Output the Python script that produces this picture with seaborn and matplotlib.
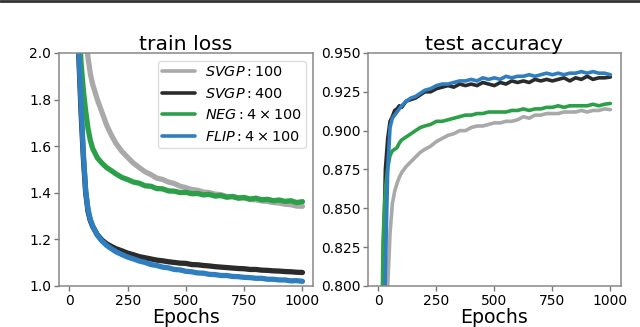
import numpy as np
import pandas as pd
import matplotlib
matplotlib.use("Agg")
import matplotlib.pyplot as plt
import seaborn as sns
from matplotlib.lines import Line2D

# ---- data ----
epochs = [0, 10, 20, 30, 40, 50, 60, 70, 80, 90, 100, 120, 140, 160, 180, 200,
          225, 250, 275, 300, 325, 350, 375, 400, 425, 450, 475, 500, 525, 550,
          575, 600, 625, 650, 675, 700, 725, 750, 775, 800, 825, 850, 875, 900,
          925, 950, 975, 1000]

series = [r'$SVGP: 100$', r'$SVGP: 400$', r'$NEG: 4\times100$', r'$FLIP: 4\times100$']
colors = ['#a9a9a9', '#2b2b2b', '#2ca048', '#2f7fc0']

loss_svgp100 = [3.50, 3.30, 3.00, 2.78, 2.55, 2.36, 2.20, 2.07, 1.98, 1.91, 1.865, 1.80, 1.745, 1.69, 1.648, 1.612,
                1.578, 1.552, 1.527, 1.508, 1.49, 1.478, 1.463, 1.457, 1.446, 1.44, 1.428, 1.422, 1.414, 1.411,
                1.403, 1.401, 1.394, 1.392, 1.384, 1.384, 1.378, 1.378, 1.371, 1.37, 1.365, 1.363, 1.358, 1.356,
                1.351, 1.349, 1.343, 1.342]
loss_svgp400 = [3.50, 3.00, 2.60, 2.25, 2.00, 1.75, 1.55, 1.40, 1.32, 1.28, 1.255, 1.22, 1.197, 1.181, 1.17, 1.16,
                1.151, 1.141, 1.134, 1.126, 1.121, 1.116, 1.111, 1.108, 1.104, 1.101, 1.098, 1.097, 1.092, 1.091,
                1.088, 1.086, 1.083, 1.081, 1.079, 1.077, 1.075, 1.074, 1.071, 1.071, 1.068, 1.067, 1.065, 1.064,
                1.062, 1.061, 1.059, 1.058]
loss_neg = [3.50, 3.20, 2.80, 2.45, 2.15, 1.96, 1.84, 1.75, 1.675, 1.625, 1.59, 1.55, 1.527, 1.508, 1.495, 1.481,
            1.466, 1.457, 1.446, 1.441, 1.43, 1.428, 1.418, 1.417, 1.408, 1.407, 1.401, 1.402, 1.396, 1.397,
            1.391, 1.393, 1.386, 1.388, 1.381, 1.384, 1.377, 1.38, 1.373, 1.377, 1.37, 1.372, 1.366, 1.369,
            1.363, 1.366, 1.358, 1.362]
loss_flip = [3.50, 3.05, 2.65, 2.28, 2.02, 1.78, 1.57, 1.41, 1.33, 1.285, 1.258, 1.218, 1.193, 1.174, 1.16, 1.147,
             1.135, 1.124, 1.116, 1.107, 1.101, 1.092, 1.088, 1.081, 1.078, 1.071, 1.069, 1.063, 1.061, 1.056,
             1.055, 1.05, 1.049, 1.045, 1.045, 1.041, 1.04, 1.037, 1.036, 1.033, 1.033, 1.029, 1.029, 1.026,
             1.026, 1.022, 1.023, 1.02]

acc_svgp100 = [0.10, 0.30, 0.50, 0.70, 0.80, 0.834, 0.853, 0.861, 0.866, 0.870, 0.873, 0.877, 0.880, 0.883, 0.886, 0.888,
               0.890, 0.893, 0.895, 0.897, 0.898, 0.900, 0.900, 0.902, 0.903, 0.903, 0.904, 0.905, 0.905, 0.906,
               0.906, 0.907, 0.909, 0.908, 0.910, 0.910, 0.911, 0.911, 0.911, 0.912, 0.912, 0.912, 0.913, 0.912,
               0.913, 0.913, 0.914, 0.9135]
acc_svgp400 = [0.10, 0.55, 0.81, 0.875, 0.895, 0.906, 0.909, 0.913, 0.914, 0.916, 0.915, 0.919, 0.920, 0.921, 0.923, 0.925,
               0.925, 0.927, 0.928, 0.929, 0.928, 0.930, 0.929, 0.930, 0.929, 0.931, 0.930, 0.929, 0.931, 0.930,
               0.932, 0.931, 0.932, 0.931, 0.933, 0.932, 0.933, 0.932, 0.933, 0.934, 0.932, 0.934, 0.933, 0.935,
               0.933, 0.934, 0.934, 0.9345]
acc_neg = [0.20, 0.72, 0.83, 0.862, 0.876, 0.884, 0.887, 0.888, 0.889, 0.892, 0.894, 0.896, 0.898, 0.900, 0.902, 0.903,
           0.904, 0.906, 0.906, 0.907, 0.908, 0.909, 0.910, 0.910, 0.911, 0.911, 0.912, 0.912, 0.912, 0.912,
           0.913, 0.913, 0.914, 0.913, 0.914, 0.914, 0.915, 0.915, 0.916, 0.915, 0.916, 0.916, 0.916, 0.916,
           0.917, 0.916, 0.917, 0.9175]
acc_flip = [0.10, 0.40, 0.70, 0.81, 0.875, 0.902, 0.908, 0.910, 0.912, 0.914, 0.916, 0.919, 0.921, 0.922, 0.924, 0.926,
            0.927, 0.929, 0.930, 0.930, 0.931, 0.932, 0.932, 0.933, 0.932, 0.934, 0.933, 0.934, 0.933, 0.935,
            0.934, 0.935, 0.935, 0.936, 0.935, 0.936, 0.937, 0.936, 0.937, 0.936, 0.937, 0.937, 0.938, 0.937,
            0.938, 0.937, 0.937, 0.936]

losses = [loss_svgp100, loss_svgp400, loss_neg, loss_flip]
accs = [acc_svgp100, acc_svgp400, acc_neg, acc_flip]

rows = []
for name, l, a in zip(series, losses, accs):
    for e, lv, av in zip(epochs, l, a):
        rows.append({'epoch': e, 'model': name, 'loss': lv, 'acc': av})
df = pd.DataFrame(rows)

sns.set_style("white")
plt.rcParams['font.family'] = ['DejaVu Sans']
plt.rcParams['text.color'] = 'black'
plt.rcParams['axes.labelcolor'] = 'black'
plt.rcParams['xtick.color'] = 'black'
plt.rcParams['ytick.color'] = 'black'
palette = dict(zip(series, colors))

fig = plt.figure(figsize=(6.4, 3.27), dpi=100)
ax1 = fig.add_axes([0.092, 0.1254, 0.397, 0.7126])
ax2 = fig.add_axes([0.575, 0.1254, 0.395, 0.7126])

sns.lineplot(data=df, x='epoch', y='loss', hue='model', hue_order=series, palette=palette,
             lw=3.8, ax=ax1, legend=False, estimator=None)
sns.lineplot(data=df, x='epoch', y='acc', hue='model', hue_order=series, palette=palette,
             lw=2.6, ax=ax2, legend=False, estimator=None)

ax1.set_ylim(1.0, 2.0)
ax1.set_yticks([1.0, 1.2, 1.4, 1.6, 1.8, 2.0])
ax1.set_yticklabels(['1.0', '1.2', '1.4', '1.6', '1.8', '2.0'])
ax2.set_ylim(0.8, 0.95)
ax2.set_yticks([0.800, 0.825, 0.850, 0.875, 0.900, 0.925, 0.950])
ax2.set_yticklabels(['0.800', '0.825', '0.850', '0.875', '0.900', '0.925', '0.950'])

for ax, title in [(ax1, 'train loss'), (ax2, 'test accuracy')]:
    ax.set_xlim(-45, 1045)
    ax.set_xticks([0, 250, 500, 750, 1000])
    ax.set_title(title, fontsize=14.7, pad=2, color='black')
    ax.set_xlabel('Epochs', fontsize=13.6, labelpad=0)
    ax.set_ylabel('')
    ax.tick_params(axis='both', labelsize=10, length=3.5, width=1, color='#777777',
                   labelcolor='black', direction='out', pad=2, bottom=True, left=True)
    for s in ax.spines.values():
        s.set_color('#888888')
        s.set_linewidth(1.1)

handles = [Line2D([], [], color=c, lw=2.6) for c in colors]
ax1.legend(handles, series, loc='upper right', bbox_to_anchor=(0.972, 0.966),
           fontsize=10.4, handlelength=2.3,
           frameon=True, fancybox=True, framealpha=1, edgecolor='#dddddd',
           borderpad=0.3, labelspacing=0.52, handletextpad=0.65, borderaxespad=0)

# dark strip along the top edge
fig.add_artist(Line2D([0, 1], [0.996, 0.996], transform=fig.transFigure, color='#333333', lw=2))

fig.savefig('out.png', dpi=100)
